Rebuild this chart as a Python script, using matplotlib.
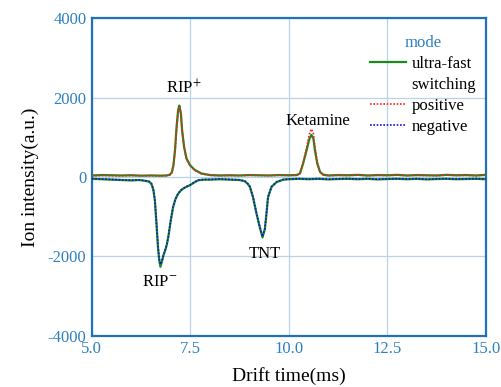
import matplotlib
matplotlib.use("Agg")
import matplotlib.pyplot as plt
from matplotlib.lines import Line2D

plt.rcParams['font.family'] = ['Liberation Serif', 'DejaVu Serif']
plt.rcParams['mathtext.fontset'] = 'stix'

# ---------------- data ----------------
x_pos = [5.0, 5.25, 5.5, 5.75, 6.0, 6.25, 6.5, 6.75, 6.9, 6.98, 7.03, 7.07, 7.11,
         7.15, 7.19, 7.22, 7.26, 7.29, 7.34, 7.40, 7.49, 7.61, 7.78, 8.0, 8.25,
         8.5, 8.75, 9.0, 9.25, 9.5, 9.75, 10.0, 10.2, 10.28, 10.36, 10.45, 10.52,
         10.57, 10.62, 10.66, 10.72, 10.79, 10.87, 11.0, 11.25, 11.5, 11.75, 12.0,
         12.25, 12.5, 12.75, 13.0, 13.25, 13.5, 13.75, 14.0, 14.25, 14.5, 14.75, 15.0]
green_pos = [40, 50, 45, 40, 45, 35, 40, 35, 40, 60, 120, 300, 680,
             1270, 1690, 1800, 1600, 1180, 760, 470, 300, 180, 90, 50, 40,
             45, 40, 50, 45, 40, 50, 45, 50, 90, 340, 680, 960,
             1060, 980, 680, 340, 130, 60, 40, 50, 45, 55, 40,
             50, 45, 55, 40, 50, 45, 40, 55, 45, 50, 40, 55]
red_pos = [30, 40, 35, 30, 40, 30, 35, 30, 35, 50, 110, 280, 640,
           1220, 1640, 1750, 1580, 1170, 750, 460, 290, 170, 80, 45, 35,
           40, 35, 45, 40, 35, 45, 40, 45, 90, 360, 740, 1080,
           1210, 1100, 760, 360, 130, 55, 35, 45, 40, 50, 35,
           45, 40, 50, 35, 45, 40, 35, 50, 40, 45, 35, 50]

x_neg = [5.0, 5.25, 5.5, 5.75, 6.0, 6.2, 6.35, 6.45, 6.51, 6.56, 6.60, 6.64, 6.68,
         6.71, 6.74, 6.78, 6.82, 6.86, 6.90, 6.94, 7.00, 7.06, 7.12, 7.19, 7.26,
         7.32, 7.40, 7.49, 7.60, 7.70, 7.85, 8.0, 8.25, 8.5, 8.75, 8.88, 8.95,
         9.01, 9.09, 9.18, 9.26, 9.33, 9.39, 9.43, 9.47, 9.56, 9.69, 9.86, 10.0,
         10.25, 10.5, 10.75, 11.0, 11.25, 11.5, 11.75, 12.0, 12.25, 12.5, 12.75,
         13.0, 13.25, 13.5, 13.75, 14.0, 14.25, 14.5, 14.75, 15.0]
blue_neg = [-40, -50, -60, -70, -80, -70, -90, -110, -160, -300, -580, -1160, -1760,
            -2050, -2200, -2100, -1950, -1840, -1700, -1500, -1100, -750, -550, -410, -330,
            -285, -240, -200, -130, -75, -60, -60, -50, -60, -70, -100, -160,
            -240, -500, -920, -1250, -1500, -1300, -920, -500, -240, -120, -60, -50,
            -40, -50, -40, -55, -45, -40, -50, -40, -55, -45, -40,
            -50, -40, -55, -45, -40, -50, -45, -40, -50]
green_neg = [-45, -55, -65, -75, -85, -75, -95, -115, -170, -320, -600, -1190, -1800,
             -2100, -2260, -2120, -1960, -1850, -1710, -1510, -1110, -760, -560, -420, -335,
             -290, -245, -205, -135, -80, -65, -65, -55, -65, -75, -105, -165,
             -245, -510, -930, -1260, -1520, -1310, -930, -510, -245, -125, -65, -55,
             -45, -55, -45, -60, -50, -45, -55, -45, -60, -50, -45,
             -55, -45, -60, -50, -45, -55, -50, -45, -55]

x_ticks = [5.0, 7.5, 10.0, 12.5, 15.0]
x_tick_labels = ['5.0', '7.5', '10.0', '12.5', '15.0']
y_ticks = [-4000, -2000, 0, 2000, 4000]
y_tick_labels = ['-4000', '-2000', '0', '2000', '4000']

peak_labels = ['RIP$^{+}$', 'RIP$^{-}$', 'TNT', 'Ketamine']
peak_label_x = [7.33, 6.73, 9.39, 10.74]
peak_label_y = [2250, -2650, -1950, 1400]

legend_labels = ['ultra-fast', 'switching', 'positive', 'negative']

# ---------------- styling ----------------
BLUE_AX = '#1f72b8'
TICK_C = '#2c80c0'
GRID_C = '#b9d3ea'

fig = plt.figure(figsize=(5.02, 3.87), dpi=100)
ax = fig.add_axes([0.183, 0.132, 0.785, 0.821])

ax.plot(x_pos, green_pos, color='#1a8a1a', lw=1.6, zorder=3)
ax.plot(x_neg, green_neg, color='#1a8a1a', lw=1.6, zorder=3)
ax.plot(x_pos, red_pos, color='#ff2020', lw=1.2, ls=(0, (1, 1)), zorder=4)
ax.plot(x_neg, blue_neg, color='#1010ee', lw=1.2, ls=(0, (1, 1)), zorder=4)

ax.set_xlim(5.0, 15.0)
ax.set_ylim(-4000, 4000)
ax.set_xticks(x_ticks)
ax.set_xticklabels(x_tick_labels)
ax.set_yticks(y_ticks)
ax.set_yticklabels(y_tick_labels)
ax.tick_params(length=0, labelsize=12, labelcolor=TICK_C, pad=4)
ax.grid(True, color=GRID_C, lw=0.9)
ax.set_axisbelow(True)
for s in ax.spines.values():
    s.set_color(BLUE_AX)
    s.set_linewidth(1.6)

ax.set_xlabel('Drift time(ms)', fontsize=14, labelpad=7)
ax.set_ylabel('Ion intensity(a.u.)', fontsize=14, labelpad=6)

for t, xx, yy in zip(peak_labels, peak_label_x, peak_label_y):
    ax.text(xx, yy, t, fontsize=12, ha='center', va='center', zorder=5)

handles = [Line2D([], [], color='#1a8a1a', lw=1.6),
           Line2D([], [], color='none'),
           Line2D([], [], color='#ff2020', lw=1.2, ls=(0, (1, 1))),
           Line2D([], [], color='#1010ee', lw=1.2, ls=(0, (1, 1)))]
leg = ax.legend(handles, legend_labels, title='mode', loc='upper right',
                bbox_to_anchor=(1.0, 0.98), frameon=False, fontsize=12,
                title_fontsize=12, handlelength=2.2, labelspacing=0.3,
                handletextpad=0.3, borderaxespad=0.2)
leg.get_title().set_color(TICK_C)

fig.savefig('out.png', dpi=100)
